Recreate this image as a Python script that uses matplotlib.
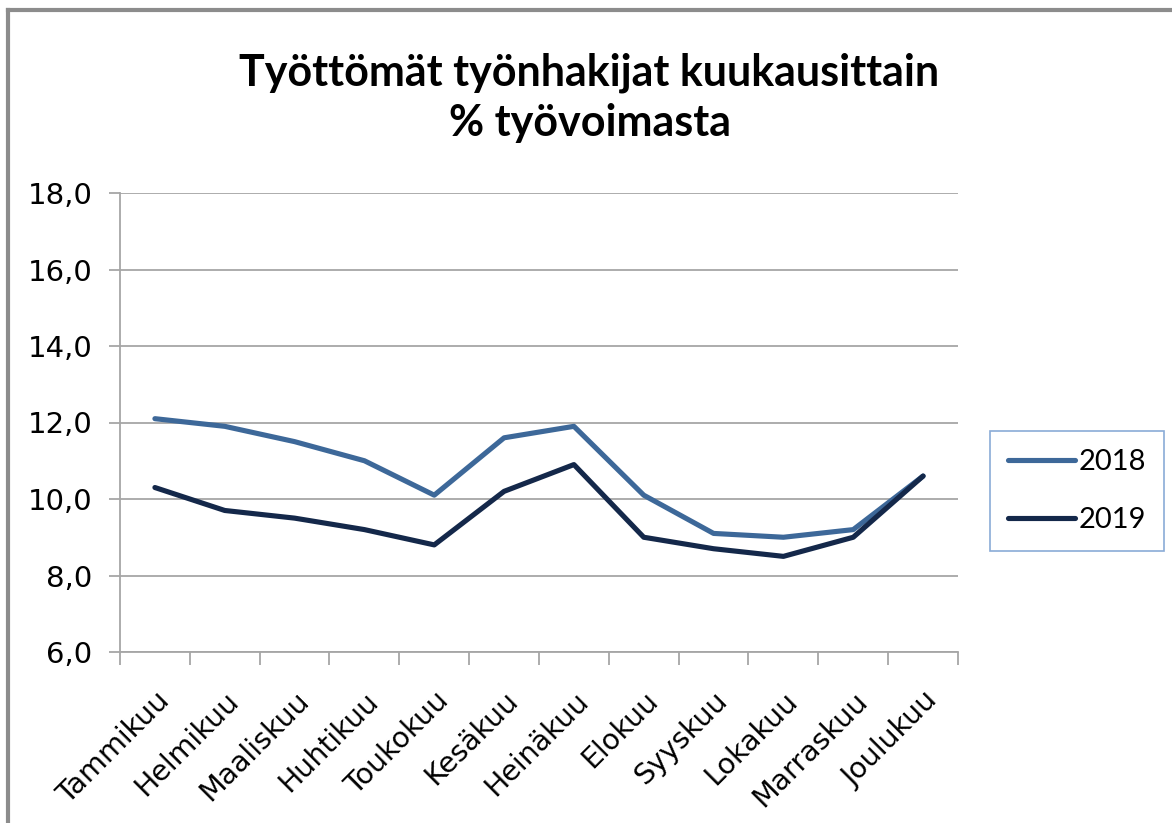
import matplotlib
matplotlib.use('Agg')
import matplotlib.pyplot as plt
import matplotlib.ticker as mticker
from matplotlib.lines import Line2D
import numpy as np

# ── Data ──────────────────────────────────────────────────────────────────────
months = ['Tammikuu', 'Helmikuu', 'Maaliskuu', 'Huhtikuu', 'Toukokuu', 'Kesäkuu',
          'Heinäkuu', 'Elokuu', 'Syyskuu', 'Lokakuu', 'Marraskuu', 'Joulukuu']
vals_2018 = [12.1, 11.9, 11.5, 11.0, 10.1, 11.6, 11.9, 10.1, 9.1, 9.0, 9.2, 10.6]
vals_2019 = [10.3, 9.7, 9.5, 9.2, 8.8, 10.2, 10.9, 9.0, 8.7, 8.5, 9.0, 10.6]
yticks = [6, 8, 10, 12, 14, 16, 18]

C2018 = '#3d6899'
C2019 = '#14284a'
GRID = '#a6a6a6'

fig = plt.figure(figsize=(11.72, 8.23), dpi=100)
ax = fig.add_axes([120 / 1172, 1 - 652 / 823, (958 - 120) / 1172, (652 - 193) / 823])

x = np.arange(len(months)) + 0.5
ax.plot(x, vals_2018, color=C2018, lw=3.7, label='2018', solid_capstyle='round')
ax.plot(x, vals_2019, color=C2019, lw=3.7, label='2019', solid_capstyle='round')

ax.set_xlim(0, len(months))
ax.set_ylim(yticks[0], yticks[-1])
ax.set_yticks(yticks)
ax.yaxis.set_major_formatter(mticker.FuncFormatter(lambda v, p: f'{v:.1f}'.replace('.', ',')))
ax.grid(axis='y', color=GRID, lw=1.3)
ax.set_axisbelow(True)

# category boundaries get tick marks, centres get labels
ax.set_xticks(np.arange(len(months) + 1))
ax.xaxis.set_major_formatter(mticker.NullFormatter())
ax.set_xticks(x, minor=True)
ax.set_xticklabels(months, minor=True, rotation=45, ha='right', va='top',
                   rotation_mode='anchor', fontsize=20.5, family='DejaVu Sans')
ax.tick_params(axis='x', which='minor', length=0, pad=25)
ax.tick_params(axis='x', which='major', length=9, width=1.3, color=GRID, direction='out')
ax.tick_params(axis='y', length=8, width=1.3, color=GRID, labelsize=21, pad=12)

for s in ['top', 'right']:
    ax.spines[s].set_visible(False)
for s in ['left', 'bottom']:
    ax.spines[s].set_color(GRID)
    ax.spines[s].set_linewidth(1.3)

fig.text(0.503, 1 - 98 / 823, 'Työttömät työnhakijat kuukausittain\n% työvoimasta',
         ha='center', va='center', fontsize=31, fontweight='bold', family='Lato',
         linespacing=1.3)

leg = fig.legend(loc='center', bbox_to_anchor=(1077 / 1172, 1 - 491 / 823),
                 fontsize=21, frameon=True, fancybox=False, handlelength=2.3,
                 handletextpad=0.15, labelspacing=1.1, borderpad=0.6,
                 borderaxespad=0)
leg.get_frame().set_edgecolor('#6d96cc')
leg.get_frame().set_linewidth(1.2)
for t in leg.get_texts():
    t.set_family('Lato')

# outer chart frame (right and bottom edges are outside the screenshot)
fig.add_artist(Line2D([8 / 1172, 8 / 1172], [0, 1 - 10 / 823], color='#8c8c8c', lw=3))
fig.add_artist(Line2D([8 / 1172, 1], [1 - 10 / 823, 1 - 10 / 823], color='#8c8c8c', lw=3))

fig.savefig('out.png', dpi=100)
